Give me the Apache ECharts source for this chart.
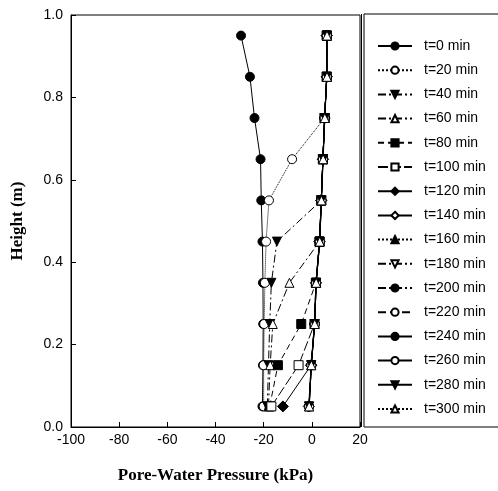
<!DOCTYPE html>
<html>
<head>
<meta charset="utf-8">
<script src="https://cdn.jsdelivr.net/npm/echarts@6/dist/echarts.min.js"></script>
<style>
    html, body { margin: 0; padding: 0; background: #fff; }
    #chartDiv { width: 498px; height: 491px; }
</style>
</head>
<body>
<div id="chartDiv"></div>
<script>
let chart = echarts.init(document.getElementById("chartDiv"));

// heights (m), bottom to top
let heights = [0.05, 0.15, 0.25, 0.35, 0.45, 0.55, 0.65, 0.75, 0.85, 0.95];
let xTicks = [-100, -80, -60, -40, -20, 0, 20];

let timeLabels = ["t=0 min", "t=20 min", "t=40 min", "t=60 min", "t=80 min", "t=100 min",
    "t=120 min", "t=140 min", "t=160 min", "t=180 min", "t=200 min", "t=220 min",
    "t=240 min", "t=260 min", "t=280 min", "t=300 min"];

// pore-water pressure (kPa) at each height
let p0 = [-20.5, -20.3, -20.2, -20.3, -20.5, -21.0, -21.3, -23.8, -25.7, -29.4];
let p20 = [-20.0, -20.0, -19.8, -19.5, -19.0, -17.8, -8.2, 5.3, 6.2, 6.2];
let p40 = [-18.5, -18.0, -17.5, -16.8, -14.5, 3.9, 4.6, 5.3, 6.2, 6.2];
let p60 = [-18.0, -17.3, -16.2, -9.3, 3.2, 3.9, 4.6, 5.3, 6.2, 6.2];
let p80 = [-17.5, -14.1, -4.4, 1.7, 3.2, 3.9, 4.6, 5.3, 6.2, 6.2];
let p100 = [-16.8, -5.5, 1.1, 1.7, 3.2, 3.9, 4.6, 5.3, 6.2, 6.2];
let p120 = [-12.0, -0.3, 1.1, 1.7, 3.2, 3.9, 4.6, 5.3, 6.2, 6.2];
let p140 = [-1.3, -0.3, 1.1, 1.7, 3.2, 3.9, 4.6, 5.3, 6.2, 6.2];
let p160 = [-1.2, -0.3, 1.1, 1.7, 3.2, 3.9, 4.6, 5.3, 6.2, 6.2];
let p180 = [-1.2, -0.3, 1.1, 1.8, 3.2, 3.9, 4.6, 5.3, 6.2, 6.2];
let p200 = [-1.2, -0.2, 1.1, 1.8, 3.2, 3.9, 4.6, 5.3, 6.2, 6.2];
let p220 = [-1.2, -0.2, 1.2, 1.8, 3.2, 3.9, 4.6, 5.3, 6.2, 6.2];
let p240 = [-1.1, -0.2, 1.2, 1.8, 3.3, 3.9, 4.6, 5.3, 6.2, 6.2];
let p260 = [-1.1, -0.2, 1.2, 1.8, 3.3, 4.0, 4.6, 5.3, 6.2, 6.2];
let p280 = [-1.1, -0.2, 1.2, 1.8, 3.3, 4.0, 4.7, 5.4, 6.2, 6.2];
let p300 = [-1.1, -0.2, 1.2, 1.8, 3.3, 4.0, 4.7, 5.4, 6.3, 6.3];

let pressures = [p0, p20, p40, p60, p80, p100, p120, p140, p160, p180, p200, p220, p240, p260, p280, p300];

let dashDot = [8, 3, 2, 3];
// symbol, filled, rotate, line type
let styles = [
    ["circle", true, 0, "solid"],
    ["circle", false, 0, "dotted"],
    ["triangle", true, 180, dashDot],
    ["triangle", false, 0, dashDot],
    ["rect", true, 0, [6, 4]],
    ["rect", false, 0, [10, 3]],
    ["diamond", true, 0, "solid"],
    ["diamond", false, 0, "solid"],
    ["triangle", true, 0, "dotted"],
    ["triangle", false, 180, dashDot],
    ["circle", true, 0, dashDot],
    ["circle", false, 0, [8, 4]],
    ["circle", true, 0, "solid"],
    ["circle", false, 0, "solid"],
    ["triangle", true, 180, "solid"],
    ["triangle", false, 0, "dotted"],
];

let seriesList = timeLabels.map(function (name, i) {
    let s = styles[i];
    return {
        name: name,
        type: "line",
        data: pressures[i].map(function (p, j) { return [p, heights[j]]; }),
        symbol: s[0],
        symbolSize: s[0] === "diamond" ? 11 : 9,
        symbolRotate: s[2],
        lineStyle: { color: "#000", width: 1, type: s[3] },
        itemStyle: { color: s[1] ? "#000" : "#fff", borderColor: "#000", borderWidth: 1 },
        z: 2 + i,
        animation: false,
    };
});

let options = {
    backgroundColor: "#fff",
    grid: {
        left: 71,
        top: 15,
        width: 289,
        height: 412,
        show: true,
        borderColor: "#000",
        borderWidth: 1,
    },
    legend: {
        orient: "vertical",
        left: 372,
        top: 34,
        itemWidth: 34,
        itemHeight: 9,
        itemGap: 10.2,
        textStyle: {
            color: "#000",
            fontSize: 14,
            fontFamily: "Liberation Sans",
            lineHeight: 14,
            padding: [0, 0, 0, 7],
        },
        data: timeLabels,
    },
    graphic: [
        {
            type: "rect",
            shape: { x: 364, y: 14, width: 140, height: 413 },
            style: { fill: null, stroke: "#000", lineWidth: 1 },
        },
        {
            type: "line",
            shape: { x1: 361.5, y1: 14, x2: 361.5, y2: 427 },
            style: { stroke: "#000", lineWidth: 1 },
        },
    ],
    xAxis: {
        type: "value",
        min: -100,
        max: 20,
        interval: 20,
        name: "Pore-Water Pressure (kPa)",
        nameLocation: "middle",
        nameGap: 40,
        nameTextStyle: {
            color: "#000",
            fontSize: 17,
            fontWeight: "bold",
            fontFamily: "Liberation Serif",
        },
        axisLine: { onZero: false, lineStyle: { color: "#000", width: 1 } },
        axisTick: { inside: true, length: 5, lineStyle: { color: "#000" } },
        axisLabel: {
            color: "#000",
            fontSize: 14,
            fontFamily: "Liberation Sans",
            margin: 6,
            customValues: xTicks,
        },
        splitLine: { show: false },
    },
    yAxis: {
        type: "value",
        min: 0,
        max: 1,
        interval: 0.2,
        name: "Height (m)",
        nameLocation: "middle",
        nameGap: 45,
        nameTextStyle: {
            color: "#000",
            fontSize: 17,
            fontWeight: "bold",
            fontFamily: "Liberation Serif",
        },
        axisLine: { onZero: false, lineStyle: { color: "#000", width: 1 } },
        axisTick: { inside: true, length: 5, lineStyle: { color: "#000" } },
        axisLabel: {
            color: "#000",
            fontSize: 14,
            fontFamily: "Liberation Sans",
            margin: 8,
            formatter: function (v) { return v.toFixed(1); },
        },
        splitLine: { show: false },
    },
    series: seriesList,
};

chart.setOption(options);
</script>
</body>
</html>
